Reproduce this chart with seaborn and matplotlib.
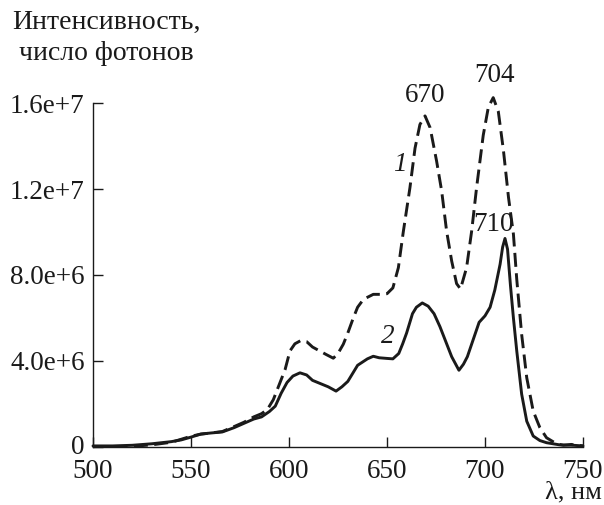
import numpy as np
import pandas as pd
import matplotlib
matplotlib.use("Agg")
import matplotlib.pyplot as plt
import matplotlib.transforms as mtransforms
import seaborn as sns

# Curve 1 (dashed)
wl_1 = [500, 520, 530, 540, 550, 555, 560, 566, 572, 577, 582, 586, 589, 592, 595, 598,
        600.5, 603, 606, 609, 612, 615, 619, 622.6, 625, 627.7, 630, 632.8, 635, 638, 643,
        647, 650, 653, 655.8, 658.3, 661.7, 664.3, 666.8, 669.4, 672, 675.3, 677.9, 680.4,
        683, 685.5, 687.5, 690.6, 693.2, 695.7, 699.1, 701.7, 704.2, 706.8, 709.4, 712,
        714.5, 716.2, 718.7, 721.3, 724.6, 728, 731.4, 736.5, 740, 744, 747, 750]
int_1 = [0.02, 0.03, 0.10, 0.22, 0.50, 0.60, 0.65, 0.72, 0.95, 1.15, 1.40, 1.55, 1.75, 2.2,
         2.9, 3.6, 4.47, 4.8, 4.95, 4.9, 4.65, 4.5, 4.3, 4.13, 4.35, 4.78, 5.3, 6.0, 6.5,
         6.87, 7.1, 7.1, 7.13, 7.4, 8.34, 10.0, 12.06, 13.9, 15.0, 15.4, 14.85, 13.3, 11.9,
         10.05, 8.65, 7.6, 7.35, 8.34, 10.05, 12.06, 14.5, 15.8, 16.25, 15.6, 13.8, 11.6,
         9.9, 7.8, 5.24, 3.22, 1.67, 0.9, 0.43, 0.15, 0.08, 0.12, 0.08, 0.05]

# Curve 2 (solid)
wl_2 = [500, 510, 520, 530, 540, 545, 550, 555, 560, 566, 572, 577, 582, 586, 590, 593, 596,
        599, 602, 605.6, 609, 612, 616, 620, 624, 627, 630, 635, 640, 643, 646, 650, 653,
        656, 658, 660, 663, 665, 668, 671, 674, 677, 680, 683, 686.7, 689, 691, 694, 697,
        700, 702.6, 705, 707.7, 709, 710.2, 711.5, 713, 714.5, 716.2, 718.7, 721.3, 724.6,
        728, 731.4, 738, 745, 750]
int_2 = [0.05, 0.05, 0.08, 0.15, 0.25, 0.33, 0.46, 0.60, 0.65, 0.70, 0.90, 1.10, 1.30, 1.40,
         1.65, 1.9, 2.5, 3.0, 3.3, 3.45, 3.35, 3.1, 2.95, 2.8, 2.6, 2.8, 3.05, 3.8, 4.1, 4.22,
         4.15, 4.12, 4.1, 4.35, 4.8, 5.3, 6.2, 6.5, 6.7, 6.55, 6.2, 5.6, 4.9, 4.2, 3.57, 3.85,
         4.2, 5.0, 5.8, 6.1, 6.5, 7.3, 8.5, 9.3, 9.7, 9.2, 7.5, 6.0, 4.47, 2.46, 1.2, 0.51,
         0.3, 0.2, 0.1, 0.08, 0.05]

x_ticks = [500, 550, 600, 650, 700, 750]
y_ticks = [0, 4.0e6, 8.0e6, 1.2e7, 1.6e7]
y_tick_labels = ["0", "4.0e+6", "8.0e+6", "1.2e+7", "1.6e+7"]

# annotations: (text, x, y, italic)
notes = [("670", 669.4, 1.633e7, False), ("704", 705.1, 1.726e7, False),
         ("710", 704.1, 1.033e7, False), ("1", 656.6, 1.316e7, True),
         ("2", 650.5, 5.16e6, True)]

df1 = pd.DataFrame({"wl": wl_1, "I": np.array(int_1) * 1e6})
df2 = pd.DataFrame({"wl": wl_2, "I": np.array(int_2) * 1e6})

sns.set_style("ticks")
plt.rcParams["font.family"] = ["Liberation Serif", "DejaVu Serif"]
plt.rcParams["font.size"] = 19.5

fig = plt.figure(figsize=(6.04, 5.05), dpi=100)
ax = fig.add_axes([93 / 604, 1 - 447 / 505, 490 / 604, 344 / 505])

col = "#1a1a1a"
sns.lineplot(data=df1, x="wl", y="I", ax=ax, color=col, lw=2.1, sort=False)
ax.lines[-1].set_dashes((4.8, 2.2))
sns.lineplot(data=df2, x="wl", y="I", ax=ax, color=col, lw=2.1, sort=False)
for ln in ax.lines:
    ln.set_clip_on(False)

ax.set_xlim(500, 750)
ax.set_ylim(0, 1.6e7)
ax.set_xticks(x_ticks)
ax.set_xticklabels([str(t) for t in x_ticks])
ax.set_yticks(y_ticks)
ax.set_yticklabels(y_tick_labels)
ax.tick_params(direction="in", length=7, width=1, labelsize=19.5, colors=col)
ax.tick_params(axis="x", pad=9)
ax.tick_params(axis="y", pad=6)
sns.despine(ax=ax)
for s in ["left", "bottom"]:
    ax.spines[s].set_linewidth(1.0)
    ax.spines[s].set_color(col)
ax.set_xlabel("")
ax.set_ylabel("")

# nudge the "0" label up slightly so it clears "500"
lbl0 = ax.get_yticklabels()[0]
lbl0.set_transform(lbl0.get_transform() +
                   mtransforms.ScaledTranslation(0, 3 / 100, fig.dpi_scale_trans))

for txt, x, y, it in notes:
    ax.text(x, y, txt, ha="center", va="center", fontsize=19.5, color=col,
            style="italic" if it else "normal")

fig.text(12 / 604, 1 - 22 / 505, "Интенсивность,", ha="left", va="center", fontsize=20, color=col)
fig.text(12 / 604, 1 - 54 / 505, " число фотонов", ha="left", va="center", fontsize=20, color=col)
fig.text(602 / 604, 2 / 505, "λ, нм", ha="right", va="bottom", fontsize=19, color=col)

fig.savefig("out.png", dpi=100)
